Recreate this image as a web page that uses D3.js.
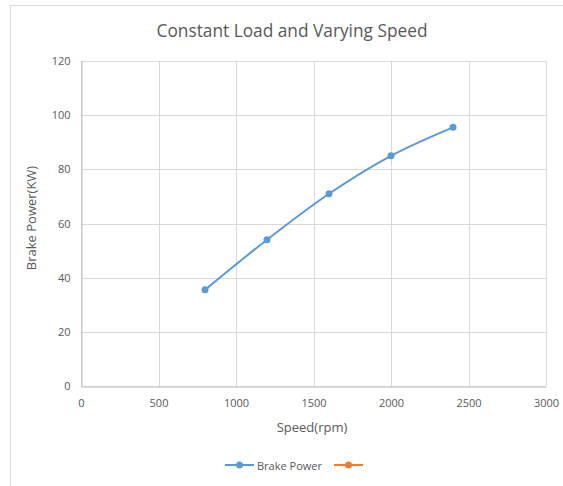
<!DOCTYPE html>
<html>
<head>
<meta charset="utf-8">
<script src="https://cdn.jsdelivr.net/npm/d3@7/dist/d3.min.js"></script>
<style>
  html, body { margin: 0; padding: 0; background: #fff; }
  svg text { font-family: "Open Sans", "Liberation Sans", sans-serif; fill: #595959; }
</style>
</head>
<body>
<svg id="chart" width="563" height="486"></svg>
<script>
// Brake power measured at constant load over a range of engine speeds
const speeds = [800, 1200, 1600, 2000, 2400];
const brakePower = [35.5, 54, 71, 85, 95.5];
const xTicks = [0, 500, 1000, 1500, 2000, 2500, 3000];
const yTicks = [0, 20, 40, 60, 80, 100, 120];
const seriesNames = ["Brake Power", ""];
const seriesColors = ["#5B9BD5", "#ED7D31"];

const svg = d3.select("#chart");

// chart frame
svg.append("rect")
  .attr("x", 10.5).attr("y", 5.5)
  .attr("width", 560).attr("height", 490)
  .attr("fill", "#fff").attr("stroke", "#d9d9d9");

const plot = { left: 81, right: 546, top: 61, bottom: 386 };

const x = d3.scaleLinear().domain([0, 3000]).range([plot.left, plot.right]);
const y = d3.scaleLinear().domain([0, 120]).range([plot.bottom, plot.top]);

// gridlines
const grid = svg.append("g");
grid.selectAll(".hg").data(yTicks).join("line")
  .attr("x1", plot.left).attr("x2", plot.right)
  .attr("y1", d => Math.round(y(d)) + 0.5).attr("y2", d => Math.round(y(d)) + 0.5)
  .attr("stroke", "#d9d9d9");
grid.selectAll(".vg").data(xTicks).join("line")
  .attr("x1", d => Math.round(x(d)) + 0.5).attr("x2", d => Math.round(x(d)) + 0.5)
  .attr("y1", plot.top).attr("y2", plot.bottom)
  .attr("stroke", "#d9d9d9");

// axes
const xAxis = svg.append("g")
  .attr("transform", `translate(0,${Math.round(y(0)) + 0.5})`)
  .call(d3.axisBottom(x).tickValues(xTicks).tickFormat(d3.format("d")).tickSize(0).tickPadding(13));
xAxis.select(".domain").attr("stroke", "#bfbfbf");
xAxis.selectAll("text").attr("font-size", 11).style("fill", "#595959")
  .style("font-family", "'Open Sans', sans-serif");

const yAxis = svg.append("g")
  .attr("transform", `translate(${Math.round(x(0)) + 0.5},0)`)
  .call(d3.axisLeft(y).tickValues(yTicks).tickFormat(d3.format("d")).tickSize(0).tickPadding(11));
yAxis.select(".domain").attr("stroke", "#bfbfbf");
yAxis.selectAll("text").attr("font-size", 11).style("fill", "#595959")
  .style("font-family", "'Open Sans', sans-serif");

// title and axis labels
svg.append("text")
  .attr("x", 292).attr("y", 37)
  .attr("text-anchor", "middle")
  .attr("font-size", 17.3)
  .text("Constant Load and Varying Speed");

svg.append("text")
  .attr("transform", `translate(31,218) rotate(-90)`)
  .attr("text-anchor", "middle")
  .attr("dominant-baseline", "central")
  .attr("font-size", 13)
  .text("Brake Power(KW)");

svg.append("text")
  .attr("x", 312).attr("y", 432)
  .attr("text-anchor", "middle")
  .attr("font-size", 13)
  .text("Speed(rpm)");

// data series
const pts = speeds.map((s, i) => [s, brakePower[i]]);
const line = d3.line().x(d => x(d[0])).y(d => y(d[1])).curve(d3.curveCatmullRom.alpha(0.5));

svg.append("path")
  .datum(pts)
  .attr("d", line)
  .attr("fill", "none")
  .attr("stroke", seriesColors[0])
  .attr("stroke-width", 2);

svg.selectAll(".pt").data(pts).join("circle")
  .attr("cx", d => x(d[0])).attr("cy", d => y(d[1]))
  .attr("r", 3.5)
  .attr("fill", seriesColors[0]);

// legend
const legend = svg.append("g").attr("transform", "translate(0,465)");
const legendItems = [
  { x: 225, len: 29, color: seriesColors[0], label: seriesNames[0] },
  { x: 334, len: 29, color: seriesColors[1], label: seriesNames[1] }
];
legendItems.forEach(it => {
  legend.append("line")
    .attr("x1", it.x).attr("x2", it.x + it.len)
    .attr("y1", 0).attr("y2", 0)
    .attr("stroke", it.color).attr("stroke-width", 2);
  legend.append("circle")
    .attr("cx", it.x + it.len / 2).attr("cy", 0).attr("r", 3.5)
    .attr("fill", it.color);
  if (it.label) {
    legend.append("text")
      .attr("x", it.x + it.len + 3).attr("y", 0)
      .attr("dominant-baseline", "central")
      .attr("font-size", 11)
      .text(it.label);
  }
});
</script>
</body>
</html>
